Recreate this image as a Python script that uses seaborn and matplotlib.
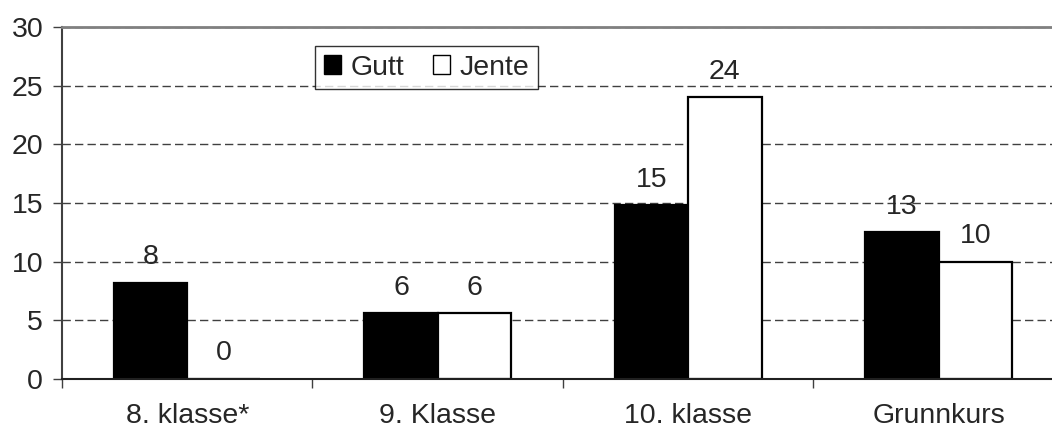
import pandas as pd
import seaborn as sns
import matplotlib.pyplot as plt
from matplotlib.patches import Patch

# values
categories = ['8. klasse*', '9. Klasse', '10. klasse', 'Grunnkurs']
gutt = [8.2, 5.6, 14.8, 12.5]
jente = [0.0, 5.6, 24.0, 10.0]
gutt_labels = ['8', '6', '15', '13']
jente_labels = ['0', '6', '24', '10']

df = pd.DataFrame({
    'Klasse': categories * 2,
    'Kjønn': ['Gutt'] * 4 + ['Jente'] * 4,
    'Prosent': gutt + jente,
})

sns.set_style('white')
plt.rcParams['font.family'] = ['Liberation Sans', 'DejaVu Sans']
fs = 20.5

fig = plt.figure(figsize=(10.52, 4.32), dpi=100)
ax = fig.add_axes([0.0589, 0.1227, 0.9525, 0.8148])

sns.barplot(data=df, x='Klasse', y='Prosent', hue='Kjønn',
            palette={'Gutt': 'black', 'Jente': 'white'},
            width=0.585, edgecolor='black', linewidth=1.6,
            saturation=1, legend=False, ax=ax)

for cont, labs in zip(ax.containers, [gutt_labels, jente_labels]):
    ax.bar_label(cont, labels=labs, padding=9, fontsize=fs)

ax.set_ylim(0, 30)
ax.set_xlim(-0.5, 3.5)
ax.set_yticks(range(0, 31, 5))
ax.set_axisbelow(True)
ax.yaxis.grid(True, linestyle=(0, (6, 3)), color='#404040', linewidth=1)
ax.xaxis.grid(False)

ax.set_xlabel('')
ax.set_ylabel('')
ax.tick_params(axis='y', length=6.5, width=1, color='#404040', pad=7,
               labelsize=fs, left=True, direction='out')
ax.tick_params(axis='x', which='major', length=0, pad=17, labelsize=fs)
ax.set_xticks([-0.5, 0.5, 1.5, 2.5], minor=True)
ax.tick_params(axis='x', which='minor', length=6.5, width=1, color='#404040',
               bottom=True, direction='out')

ax.spines['top'].set_color('#808080')
ax.spines['top'].set_linewidth(2)
ax.spines['left'].set_color('#404040')
ax.spines['left'].set_linewidth(1.5)
ax.spines['bottom'].set_color('#202020')
ax.spines['bottom'].set_linewidth(1.5)
ax.spines['right'].set_visible(False)

handles = [Patch(facecolor='black', edgecolor='black', label='Gutt'),
           Patch(facecolor='white', edgecolor='black', label='Jente')]
leg = ax.legend(handles=handles, loc='upper center', bbox_to_anchor=(0.364, 0.946),
                ncol=2, fontsize=fs, frameon=True, fancybox=False,
                handlelength=0.6, handleheight=0.6, handletextpad=0.35,
                columnspacing=1.0, borderpad=0.3, borderaxespad=0)
leg.get_frame().set_edgecolor('black')
leg.get_frame().set_linewidth(1)

fig.savefig('out.png', dpi=100)
